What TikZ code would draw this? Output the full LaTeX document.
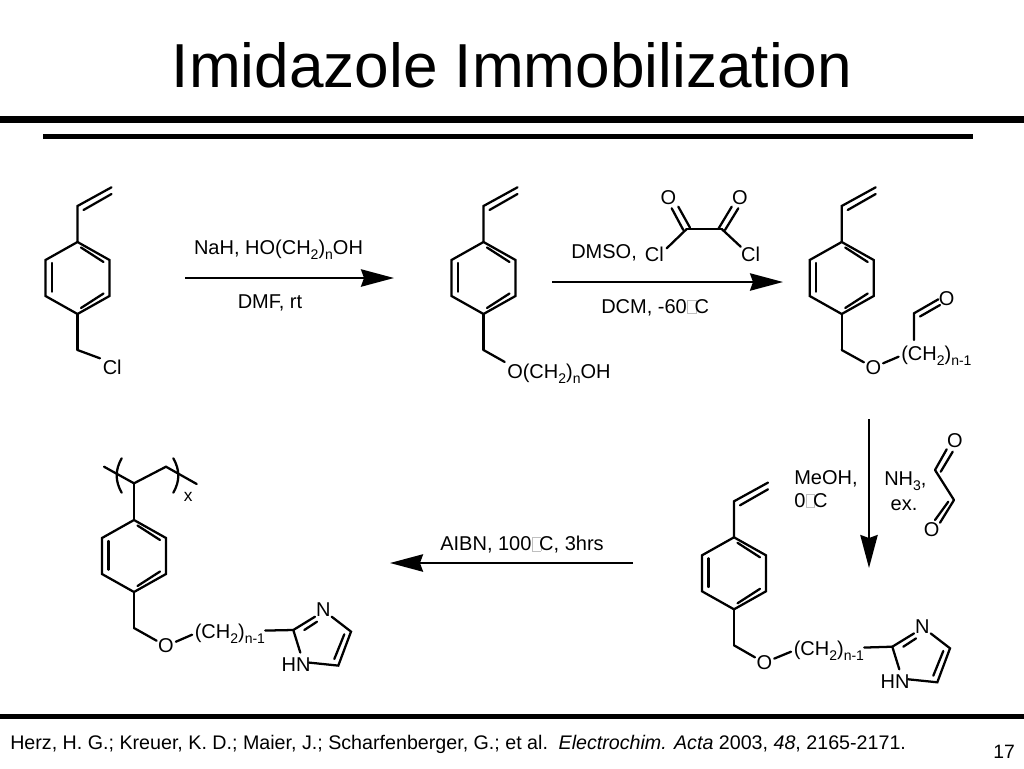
\documentclass[tikz,border=0pt]{standalone}
\usepackage{fontspec}
\setmainfont{Liberation Sans}
\usetikzlibrary{arrows.meta}

\newcommand{\chemfont}{\fontsize{15}{18}\selectfont}
\newcommand{\lowr}[1]{\raisebox{-0.55ex}{\fontsize{10.5}{12}\selectfont #1}}
\newcommand{\tofu}{\kern0.3pt{\color{black!25}\setlength{\fboxsep}{0pt}\setlength{\fboxrule}{0.5pt}\fbox{\rule{0pt}{9.5pt}\rule{6pt}{0pt}}}\kern-1.5pt}

\tikzset{
	bond/.style={line width=1.7pt, line join=miter, line cap=round},
	gapbond/.style={bond, shorten >=2pt},
	rxn/.style={line width=1.7pt, -{Stealth[length=24.75pt, width=13pt, inset=2.25pt]}},
	rule/.style={line width=#1},
	lab/.style={font=\chemfont, inner sep=0pt, anchor=base west},
	atom/.style={font=\chemfont, circle, inner sep=0pt},
	% benzene ring, origin on the top atom
	pics/ring/.style={code={
		\draw[bond] (0,0) -- (32,18) -- (32,54) -- (0,72) -- (-32,54) -- (-32,18) -- cycle;
		\draw[bond] (3.5,5.5) -- (26,20);
		\draw[bond] (3.5,66) -- (26,51.5);
		\draw[bond] (-25.5,21) -- (-25.5,49.7);
		\coordinate (-top) at (0,0);
		\coordinate (-low) at (0,72);
		\coordinate (-bot) at (0,108);
		\draw[bond] (-low) -- (-bot);
	}},
	pics/vinyl/.style={code={
		\draw[bond] (0,0) -- (0,-36) -- (34,-54.7);
		\draw[bond] (6,-32) -- (34,-48);
	}},
	% imidazole, origin on C2
	pics/imid/.style={code={
		\node[atom] (-n) at (30,-20) {N};
		\node[lab, anchor=center] (-hn) at (2.7,35) {HN};
		\coordinate (-c2) at (0,0);
		\draw[bond] (-c2) -- (21.7,-13.3);
		\draw[bond] (11,0) -- (23.7,-8.3);
		\draw[bond] (38.4,-13.3) -- (57.7,1.6) -- (45,35.6) -- (16,32.6);
		\draw[bond] (51,4.3) -- (41,29);
		\draw[bond] (-c2) -- (7,22.6);
	}}
}

\begin{document}
\begin{tikzpicture}[x=0.75pt, y=-0.75pt]

	\useasboundingbox (0,0) rectangle (1024,768);

	% title and rules
	\node[font=\fontsize{46.6}{50}\selectfont, inner sep=0pt, anchor=base] (title) at (512,87.5) {Imidazole Immobilization};
	\coordinate (ruleAl) at (0,119.3);
	\coordinate (ruleAr) at (1024,119.3);
	\coordinate (ruleBl) at (43,136.5);
	\coordinate (ruleBr) at (973,136.5);
	\coordinate (ruleCl) at (0,716.7);
	\coordinate (ruleCr) at (1024,716.7);
	\draw[rule=4.8pt] (ruleAl) -- (ruleAr);
	\draw[rule=3.2pt] (ruleBl) -- (ruleBr);
	\draw[rule=3.4pt] (ruleCl) -- (ruleCr);

	% benzyl chloride
	\pic (rA) at (77.5,242) {ring};
	\pic at (77.5,242) {vinyl};
	\node[lab] (clA) at (102.5,374) {Cl};
	\draw[gapbond] (rA-bot) -- (clA.north west);

	% first arrow
	\coordinate (arAs) at (185,278);
	\coordinate (arAe) at (394,278);
	\draw[rxn] (arAs) -- (arAe);
	\node[lab, anchor=base] (naH) at (278.5,254) {NaH, HO(CH\lowr{2})\lowr{n}OH};
	\node[lab, anchor=base] (dmf) at (270,308.5) {DMF, rt};

	% alcohol
	\pic (rB) at (483.5,242) {ring};
	\pic at (483.5,242) {vinyl};
	\node[lab] (chB) at (507,378) {O(CH\lowr{2})\lowr{n}OH};
	\draw[gapbond] (rB-bot) -- (chB.north west);

	% second arrow
	\coordinate (arBs) at (552,282);
	\coordinate (arBe) at (783,282);
	\draw[rxn] (arBs) -- (arBe);
	\node[lab] (dmso) at (571,258.3) {DMSO,};
	\node[lab] (dcm) at (601,313.3) {DCM, -60\tofu C};

	% oxalyl chloride
	\node[atom] (oxOa) at (668.3,197.3) {O};
	\node[atom] (oxOb) at (740,197.3) {O};
	\node[lab, anchor=center] (oxCla) at (654.3,254) {Cl};
	\node[lab, anchor=center] (oxClb) at (750.5,254) {Cl};
	\coordinate (oxCa) at (686.7,229);
	\coordinate (oxCb) at (721.7,229);
	\draw[bond] (oxCa) -- (oxCb);
	\draw[bond] (oxCa) -- (666.7,248.3);
	\draw[bond] (oxCb) -- (740.7,246.7);
	\draw[bond] (683.3,230) -- (671.7,208.3);
	\draw[bond] (690,227.7) -- (678.3,206.7);
	\draw[bond] (725,230) -- (738.3,208.3);
	\draw[bond] (718.3,229) -- (731.7,206.7);

	% aldehyde
	\pic (rC) at (841.7,242) {ring};
	\pic at (841.7,242) {vinyl};
	\node[atom] (oC) at (873.3,367.5) {O};
	\node[lab] (chC) at (901,360) {(CH\lowr{2})\lowr{n-1}};
	\node[atom] (ocC) at (946.7,299) {O};
	\coordinate (cC) at (914,313.3);
	\coordinate (cCb) at (914,340);
	\draw[bond] (rC-bot) -- (oC);
	\draw[gapbond] (oC) -- (chC.west);
	\draw[bond] (cCb) -- (cC) -- (938.3,299.3);
	\draw[bond] (920,316.5) -- (940,305);

	% third arrow
	\coordinate (arCs) at (869,419);
	\coordinate (arCe) at (869,568);
	\draw[rxn] (arCs) -- (arCe);
	\node[lab] (meoh) at (794,484) {MeOH,};
	\node[lab] (zero) at (794,507.3) {0\tofu C};
	\node[lab] (nh) at (884,485) {NH\lowr{3},};
	\node[lab, anchor=base] (exc) at (904,510) {ex.};

	% glyoxal
	\node[atom] (glOa) at (955,440.7) {O};
	\node[atom] (glOb) at (931.7,530) {O};
	\coordinate (glCa) at (935,470);
	\coordinate (glCb) at (954,500);
	\draw[bond] (glCa) -- (glCb);
	\draw[bond] (glCa) -- (946.7,449.3);
	\draw[bond] (940.7,471.7) -- (952.7,451.7);
	\draw[bond] (glCb) -- (940,522.7);
	\draw[bond] (948.3,501.7) -- (935,520);

	% imine product
	\pic (rD) at (734,537.3) {ring};
	\pic at (734,537.3) {vinyl};
	\node[atom] (oD) at (764.3,662.7) {O};
	\node[lab] (chD) at (793.5,655) {(CH\lowr{2})\lowr{n-1}};
	\pic (imD) at (892.3,646.7) {imid};
	\draw[bond] (rD-bot) -- (oD);
	\draw[gapbond] (oD) -- (chD.west);
	\draw[bond] (chD.5) -- (imD-c2);

	% fourth arrow
	\coordinate (arDs) at (633,563);
	\coordinate (arDe) at (390,563);
	\draw[rxn] (arDs) -- (arDe);
	\node[lab, anchor=base] (aibn) at (522,550.5) {AIBN, 100\tofu C, 3hrs};

	% polymer
	\pic (rE) at (134,520) {ring};
	\coordinate (bbA) at (104,466.7);
	\coordinate (bbB) at (134,483.3);
	\coordinate (bbC) at (166,466.7);
	\coordinate (bbD) at (196.7,484);
	\draw[bond] (bbA) -- (bbB) -- (bbC) -- (bbD);
	\draw[bond] (bbB) -- (rE-top);
	\draw[bond] (121.7,458.3) .. controls (115,470) and (115,481) .. (121.7,492.7);
	\draw[bond] (173.3,458.3) .. controls (180,470) and (180,481) .. (173.3,492.7);
	\node[lab, anchor=base, font=\fontsize{13}{15}\selectfont] (idx) at (188.3,501) {x};
	\node[atom] (oE) at (166,646) {O};
	\node[lab] (chE) at (194.5,638) {(CH\lowr{2})\lowr{n-1}};
	\pic (imE) at (293.3,630) {imid};
	\draw[bond] (rE-bot) -- (oE);
	\draw[gapbond] (oE) -- (chE.west);
	\draw[bond] (chE.5) -- (imE-c2);

	% footer
	\node[font=\fontsize{14.75}{17}\selectfont, inner sep=0pt, anchor=base west] (refs) at (10,749.5) {Herz, H. G.; Kreuer, K. D.; Maier, J.; Scharfenberger, G.; et al.\kern2.5pt{} \textit{Electrochim. Acta} 2003, \textit{48}, 2165-2171.};
	\node[font=\fontsize{14.5}{17}\selectfont, inner sep=0pt, anchor=base] (page) at (1004,758) {17};

\end{tikzpicture}
\end{document}
